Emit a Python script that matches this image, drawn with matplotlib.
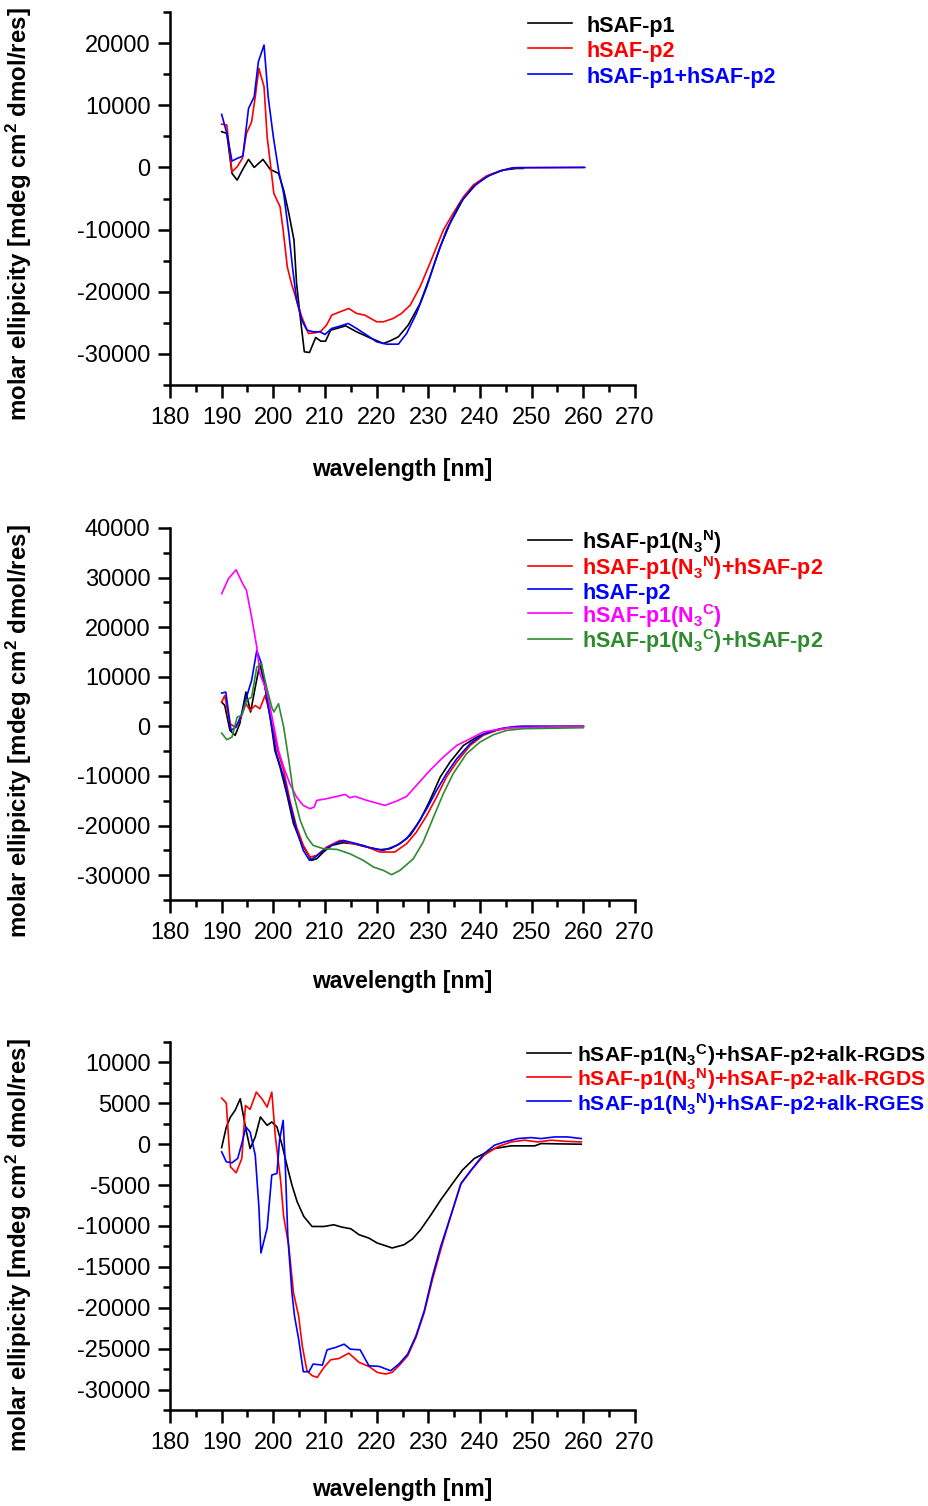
import numpy as np
import matplotlib.pyplot as plt
from matplotlib.ticker import MultipleLocator

plt.rcParams['font.family'] = ['Liberation Sans', 'DejaVu Sans']
plt.rcParams['mathtext.fontset'] = 'custom'
plt.rcParams['mathtext.rm'] = 'Liberation Sans'
plt.rcParams['mathtext.bf'] = 'Liberation Sans:bold'
plt.rcParams['mathtext.default'] = 'bf'
plt.rcParams['axes.unicode_minus'] = False

# panel 1
wl_p1 = [190, 191, 192, 193, 194, 195.2, 196.3, 198, 199.4, 201, 202, 203, 204, 204.5, 205.2, 206, 207,
         208.2, 209.2, 210.1, 211.1, 212.3, 214, 216.1, 218.7, 221.3, 222.6, 224.2, 226.1, 228.4, 230.3,
         232.3, 234.2, 236.8, 239.4, 241.9, 244.5, 247.1, 248.4]
cd_p1 = [5740, 5470, -965, -2040, -430, 1290, 0, 1290, -320, -965, -3650, -7400, -11700, -18700, -24000,
         -29660, -29770, -27360, -27950, -27950, -26170, -25900, -25480, -26440, -27410, -28320, -27900,
         -27250, -25370, -21890, -17600, -12770, -9010, -4990, -2570, -1230, -430, -160, -160]

wl_p2 = [190, 191, 192, 193, 194, 194.8, 195.8, 196.5, 197.2, 198.2, 198.8, 199.5, 200.1, 201.3, 201.9,
         202.7, 203.5, 204.5, 205.5, 206.8, 208.1, 209.2, 210.3, 211.3, 212.9, 214.6, 216.1, 217.7, 220,
         221.3, 223.2, 224.8, 226.5, 228.4, 230.3, 232.9, 234.8, 236.8, 238.7, 241.3, 243.9, 245.8, 247.1, 260]
cd_p2 = [6970, 6810, -700, 100, 1450, 5470, 7350, 11370, 15930, 12980, 4930, 100, -4180, -6330, -10080,
         -15990, -18670, -21350, -24030, -26710, -26600, -26340, -25370, -23760, -23230, -22690, -23490,
         -23760, -24830, -24830, -24300, -23490, -22150, -19200, -15450, -10080, -7400, -4720, -2840, -1340,
         -590, -160, -50, 0]

wl_p1p2 = [190, 191, 192, 193, 194.1, 195.2, 196.3, 197.1, 198.2, 199, 200, 201, 202, 203, 203.7, 204.5,
           205.5, 206.5, 207.7, 209, 210, 211.3, 212.9, 214.5, 216.1, 218.1, 220, 221.9, 224.2, 225.8, 227.7,
           229.7, 231.6, 233.5, 236.1, 238.7, 241.3, 243.9, 246.5, 260.3]
cd_p1p2 = [8530, 5470, 1020, 1450, 1820, 9490, 11370, 17000, 19690, 11370, 4930, -430, -4180, -10620,
           -15990, -21350, -24570, -26170, -26440, -26440, -26870, -25900, -25530, -25100, -25900, -26980,
           -28050, -28430, -28430, -26710, -23490, -19200, -14380, -10080, -5790, -3110, -1500, -540, -50, 0]

# panel 2
wl_n3n = [190, 190.6, 191.6, 192.6, 193.5, 194.7, 195.6, 196.5, 197.4, 198.4, 199.4, 200.3, 201.3, 202.6,
          203.9, 205.5, 207.4, 208.4, 209.7, 211.3, 213.5, 215.5, 218.1, 220.6, 222.6, 224.5, 226.5, 228.4,
          230.3, 232.3, 234.2, 236.8, 239.4, 241.9, 245.2, 248.4, 260]
cd_n3n = [4900, 4230, -800, -1810, 540, 6920, 2890, 7930, 12630, 7930, 1880, -4840, -8200, -13570, -19620,
          -23650, -27010, -26680, -25330, -23990, -23450, -23650, -24330, -24860, -24660, -23650, -21970,
          -18950, -14920, -10210, -7190, -3830, -2150, -1010, -270, 0, 0]

wl_n3n_p2 = [190, 190.6, 191.6, 192.6, 193.5, 194.7, 195.5, 196.5, 197.4, 198.4, 199, 200, 201, 202, 203.2,
             204.5, 205.8, 207.1, 208.4, 210.3, 212.9, 214.8, 217.4, 220.6, 223.5, 225.8, 227.7, 229.7,
             231.6, 233.5, 235.5, 238.1, 240.6, 243.2, 245.8, 260]
cd_n3n_p2 = [4900, 6250, 540, -130, 1210, 4570, 3230, 4230, 3560, 6250, 3900, -800, -5510, -8870, -14920,
             -20290, -23990, -26340, -26010, -24330, -22980, -23520, -23990, -25330, -25330, -23650, -21300,
             -17940, -14250, -10210, -7190, -3830, -1810, -800, -270, 0]

wl_p2b = [190, 190.8, 191.8, 192.8, 193.9, 194.8, 195.8, 196.8, 197.7, 198.7, 199.7, 200.6, 202, 203.2,
          204.5, 205.8, 207, 208.1, 209.7, 211.3, 213.5, 216.1, 218.7, 221.3, 223.9, 225.8, 227.7, 229.7,
          231.6, 233.5, 235.5, 238.1, 240.6, 243.9, 247.1, 260]
cd_p2b = [6720, 6920, -800, -130, 2550, 5910, 9270, 15320, 12630, 5910, -130, -5510, -10210, -15590, -20970,
          -25000, -27010, -26340, -25000, -23990, -22980, -23650, -24460, -25000, -23990, -22650, -19960,
          -16600, -12900, -9540, -6520, -3490, -1610, -470, 0, 0]

wl_n3c = [190, 191.3, 192.8, 193.9, 194.8, 195.8, 196.8, 197.4, 198.4, 199, 200, 201, 202, 203.2, 204.5,
          205.8, 207.1, 207.9, 208.4, 210.3, 212.3, 213.9, 214.8, 215.8, 218.1, 220, 221.6, 223.9, 225.8,
          227.7, 230.3, 232.9, 235.5, 238.1, 240.6, 243.2, 245.8, 260]
cd_n3c = [26750, 29770, 31580, 29100, 27420, 22040, 15990, 10620, 7930, 5910, 540, -4840, -8200, -11560,
          -14250, -15930, -16600, -16260, -14920, -14580, -14110, -13710, -14380, -14110, -14920, -15460,
          -15930, -15050, -14110, -11890, -8870, -6180, -3830, -2490, -1140, -670, -270, 0]

wl_n3c_p2 = [190, 191, 192, 193, 193.9, 194.8, 195.8, 196.8, 197.7, 198.7, 199.7, 200.1, 201, 202, 203,
             203.9, 205.2, 206.5, 207.7, 209.7, 212.3, 214.8, 217.4, 219.4, 221.3, 222.9, 224.5, 227.1, 229,
             231, 232.9, 234.8, 237.4, 240, 242.6, 245.2, 248.4, 260]
cd_n3c_p2 = [-1340, -2690, -2150, 1880, 2220, 5240, 5910, 11960, 12630, 7930, 3900, 2890, 4570, -130, -6850,
             -13570, -18950, -22310, -23990, -24660, -24800, -25670, -27010, -28360, -29030, -29900, -29030,
             -26680, -23320, -18280, -13570, -9540, -5510, -3160, -1680, -800, -470, -270]

# panel 3
wl_c_rgds = [190, 190.9, 191.7, 192.6, 193.6, 194.6, 195.5, 196.5, 197.5, 198.8, 199.7, 200.7, 201.7, 202.7,
             203.6, 204.6, 205.9, 207.5, 209.8, 211.7, 213.3, 215, 216.6, 218.5, 220.1, 221.7, 223, 225.3,
             226.9, 228.5, 230.5, 232.4, 234.7, 236.6, 238.9, 240.8, 242.8, 246, 250.6, 251.8, 259.6]
cd_c_rgds = [-410, 2110, 3330, 4140, 5560, 2110, -530, 890, 3330, 2310, 2720, 2110, -120, -2760, -4990, -7020,
             -8840, -10060, -10060, -9850, -10140, -10340, -11070, -11480, -12080, -12410, -12690, -12290,
             -11600, -10460, -8640, -6810, -4780, -3160, -1740, -1140, -530, -200, -200, 80, 0]

wl_n_rgds = [190, 190.9, 191.7, 192.8, 193.9, 194.6, 195.5, 196.7, 197.8, 198.8, 199.7, 200.4, 201.4, 202,
             203, 203.9, 204.9, 205.6, 206.5, 207.5, 208.5, 209.8, 211.1, 212.7, 214.6, 216.6, 218.5, 220.1,
             221.7, 223, 224.3, 226, 227.6, 229.2, 230.8, 232.4, 234.4, 236.3, 238.3, 240.8, 243.4, 246,
             248.6, 251.2, 253.8, 256.4, 259.6]
cd_n_rgds = [5640, 5030, -2760, -3490, -1740, 4740, 4260, 6370, 5560, 4540, 6370, 890, -4380, -8840, -12490,
             -18170, -21010, -24650, -27700, -28300, -28510, -27290, -26360, -26200, -25550, -26680, -27170,
             -27900, -28100, -27900, -27090, -25870, -23640, -20600, -16540, -12890, -8640, -4780, -3160,
             -1340, -320, 280, 490, 280, 490, 360, 280]

wl_n_rges = [190, 190.9, 192, 193.1, 193.9, 194.7, 195.5, 196.5, 197.2, 197.6, 198.8, 199.7, 200.7, 201.2,
             201.9, 202.3, 202.8, 203.6, 204.1, 204.9, 205.8, 206.9, 207.7, 209.5, 210.4, 212, 213.7, 214.9,
             216.8, 218.5, 220.5, 222.7, 224.3, 226, 227.6, 229.2, 230.8, 232.4, 234.4, 236.3, 238.3, 240.8,
             242.8, 244.7, 247.3, 249.9, 251.8, 254.4, 257, 259.6]
cd_n_rges = [-930, -2150, -2270, -1740, 80, 2110, 1500, -1340, -7620, -13300, -10260, -3770, -3570, 490, 2920,
             -2350, -11270, -18170, -21010, -23840, -27820, -27820, -26880, -27010, -25140, -24860, -24450,
             -25060, -25140, -27090, -27170, -27700, -26880, -25670, -23440, -20400, -16140, -12490, -8640,
             -4870, -3160, -1140, -120, 280, 690, 810, 690, 890, 890, 690]

GREEN = '#2e8b2e'

fig = plt.figure(figsize=(9.29, 15.06), dpi=100)
W, H = 929, 1506


def make_ax(top, bottom):
    return fig.add_axes([170 / W, 1 - bottom / H, 465 / W, (bottom - top) / H])


def style(ax, ymin, ymax, major, minor, ylab_y, xlab_y):
    ax.set_xlim(180, 270)
    ax.set_ylim(ymin, ymax)
    ax.xaxis.set_major_locator(MultipleLocator(10))
    ax.xaxis.set_minor_locator(MultipleLocator(5))
    ax.yaxis.set_major_locator(MultipleLocator(major))
    ax.yaxis.set_minor_locator(MultipleLocator(minor))
    for s in ['top', 'right']:
        ax.spines[s].set_visible(False)
    for s in ['left', 'bottom']:
        ax.spines[s].set_linewidth(1.8)
    ax.tick_params(which='major', direction='out', length=9, width=1.8, labelsize=17, pad=5)
    ax.tick_params(which='minor', direction='out', length=5, width=1.8)
    ax.tick_params(axis='x', which='major', pad=7)
    ax.set_xlabel('wavelength [nm]', fontsize=16.5, fontweight='bold')
    ax.set_ylabel(r'molar ellipicity [mdeg cm$^2$ dmol/res]', fontsize=17.3, fontweight='bold')
    ax.yaxis.set_label_coords(-0.292, ylab_y)
    ax.xaxis.set_label_coords(0.5, xlab_y)


def leg(ax, x, y, pad, size=15.5, hh=1.1, ls=0.06):
    ax.legend(loc='upper left', bbox_to_anchor=(x / W, 1 - y / H), bbox_transform=fig.transFigure,
              frameon=False, prop={'weight': 'bold', 'size': size},
              handlelength=2.05 * 15.5 / size, handletextpad=pad, handleheight=hh, labelspacing=ls,
              labelcolor='linecolor', borderaxespad=0, borderpad=0)


lw = 1.2
N3N = r'N$_3$$^N$'
N3C = r'N$_3$$^C$'

ax1 = make_ax(12, 385)
ax1.plot(wl_p1, cd_p1, color='black', lw=lw, label='hSAF-p1')
ax1.plot(wl_p2, cd_p2, color='red', lw=lw, label='hSAF-p2')
ax1.plot(wl_p1p2, cd_p1p2, color='blue', lw=lw, label='hSAF-p1+hSAF-p2')
style(ax1, -35000, 25000, 10000, 5000, 0.457, -0.196)
leg(ax1, 528, 14, 0.65, ls=0.13)

ax2 = make_ax(528, 900)
ax2.plot(wl_n3n, cd_n3n, color='black', lw=lw, label='hSAF-p1(' + N3N + ')')
ax2.plot(wl_n3n_p2, cd_n3n_p2, color='red', lw=lw, label='hSAF-p1(' + N3N + ')+hSAF-p2')
ax2.plot(wl_p2b, cd_p2b, color='blue', lw=lw, label='hSAF-p2')
ax2.plot(wl_n3c, cd_n3c, color='magenta', lw=lw, label='hSAF-p1(' + N3C + ')')
ax2.plot(wl_n3c_p2, cd_n3c_p2, color=GREEN, lw=lw, label='hSAF-p1(' + N3C + ')+hSAF-p2')
style(ax2, -35000, 40000, 10000, 5000, 0.454, -0.188)
leg(ax2, 528, 528, 0.47, hh=1.25, ls=-0.09)

ax3 = make_ax(1042, 1410)
ax3.plot(wl_c_rgds, cd_c_rgds, color='black', lw=lw, label='hSAF-p1(' + N3C + ')+hSAF-p2+alk-RGDS')
ax3.plot(wl_n_rgds, cd_n_rgds, color='red', lw=lw, label='hSAF-p1(' + N3N + ')+hSAF-p2+alk-RGDS')
ax3.plot(wl_n_rges, cd_n_rges, color='blue', lw=lw, label='hSAF-p1(' + N3N + ')+hSAF-p2+alk-RGES')
style(ax3, -32500, 12500, 5000, 2500, 0.448, -0.185)
leg(ax3, 527, 1042, 0.28, size=15.3, hh=1.25, ls=-0.07)

fig.savefig('out.png', dpi=100)
